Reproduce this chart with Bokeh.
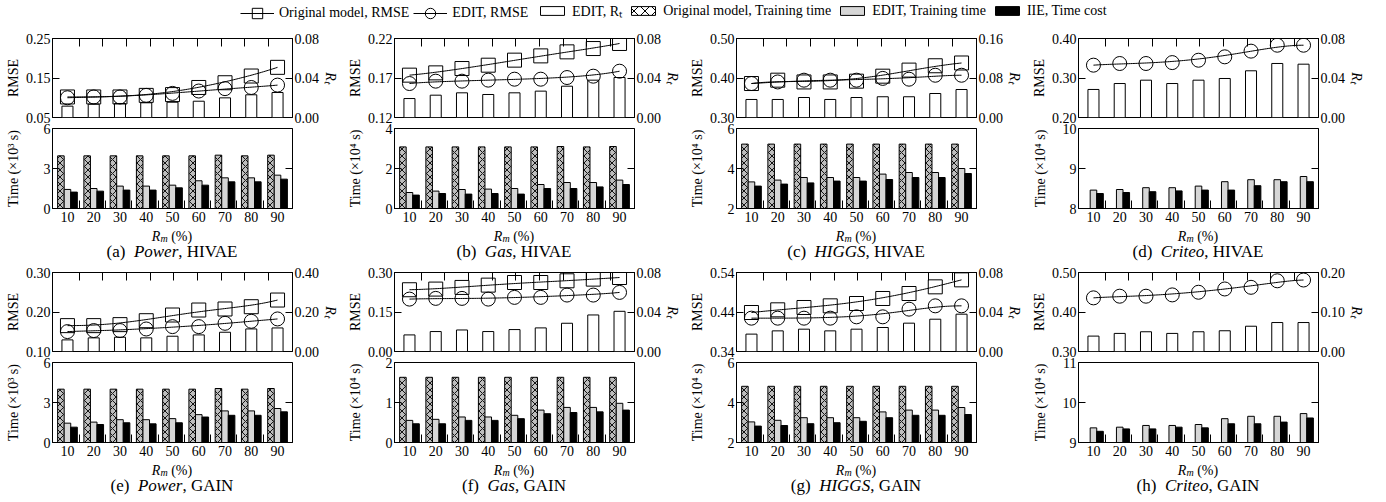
import numpy as np
from math import comb
from bokeh.plotting import figure
from bokeh.models import (Range1d, LinearAxis, FixedTicker, PrintfTickFormatter,
                          Legend, LegendItem, Div)
from bokeh.layouts import column, row
from bokeh.embed import file_html
from bokeh.resources import INLINE

FONT = "Liberation Serif"

# ---------------- data ----------------
rm_labels = ["10", "20", "30", "40", "50", "60", "70", "80", "90"]

# (a) Power, HIVAE
a_rmse_orig = [0.102, 0.102, 0.102, 0.106, 0.108, 0.126, 0.138, 0.155, 0.177]
a_rmse_edit = [0.100, 0.102, 0.102, 0.106, 0.111, 0.117, 0.123, 0.126, 0.132]
a_rt = [0.0115, 0.0135, 0.0142, 0.0149, 0.0155, 0.0165, 0.0199, 0.0230, 0.0253]
a_time_orig = [3.95, 3.95, 3.95, 3.95, 3.95, 3.95, 4.0, 3.95, 4.0]
a_time_edit = [1.43, 1.50, 1.68, 1.68, 1.75, 2.08, 2.30, 2.30, 2.50]
a_time_iie = [1.23, 1.30, 1.38, 1.38, 1.55, 1.75, 2.00, 2.00, 2.20]

# (b) Gas, HIVAE
b_rmse_orig = [0.1736, 0.1765, 0.1820, 0.1862, 0.1926, 0.1980, 0.2031, 0.2073, 0.2137]
b_rmse_edit = [0.1630, 0.1660, 0.1660, 0.1673, 0.1685, 0.1685, 0.1706, 0.1723, 0.1786]
b_rt = [0.0192, 0.0226, 0.0250, 0.0233, 0.0250, 0.0267, 0.0317, 0.0378, 0.0405]
b_time_orig = [3.08, 3.08, 3.08, 3.08, 3.08, 3.08, 3.10, 3.08, 3.10]
b_time_edit = [0.80, 0.87, 0.95, 0.97, 1.00, 1.20, 1.30, 1.30, 1.42]
b_time_iie = [0.67, 0.75, 0.72, 0.75, 0.72, 1.00, 1.00, 1.08, 1.20]

# (c) HIGGS, HIVAE
c_rmse_orig = [0.386, 0.3945, 0.390, 0.390, 0.392, 0.4046, 0.420, 0.431, 0.438]
c_rmse_edit = [0.386, 0.390, 0.3945, 0.3945, 0.3945, 0.399, 0.397, 0.407, 0.407]
c_rt = [0.0365, 0.0365, 0.0405, 0.0365, 0.0405, 0.0420, 0.0420, 0.0486, 0.0567]
c_time_orig = [5.22, 5.22, 5.22, 5.22, 5.22, 5.22, 5.22, 5.22, 5.22]
c_time_edit = [3.33, 3.42, 3.55, 3.55, 3.55, 3.72, 3.80, 3.80, 4.00]
c_time_iie = [3.12, 3.22, 3.28, 3.37, 3.37, 3.45, 3.55, 3.55, 3.75]

# (d) Criteo, HIVAE
d_rmse_orig = None
d_rmse_edit = [0.3325, 0.3367, 0.3367, 0.339, 0.345, 0.3536, 0.368, 0.383, 0.383]
d_rt = [0.0284, 0.0344, 0.0378, 0.0344, 0.0378, 0.0395, 0.0473, 0.0547, 0.0540]
d_time_orig = None
d_time_edit = [8.46, 8.475, 8.52, 8.52, 8.56, 8.67, 8.72, 8.72, 8.80]
d_time_iie = [8.375, 8.40, 8.42, 8.44, 8.46, 8.46, 8.57, 8.67, 8.67]

# (e) Power, GAIN
e_rmse_orig = [0.1655, 0.1655, 0.168, 0.178, 0.1924, 0.205, 0.2076, 0.2134, 0.2303]
e_rmse_edit = [0.1504, 0.153, 0.153, 0.157, 0.163, 0.163, 0.1714, 0.1765, 0.1824]
e_rt = [0.0588, 0.069, 0.0723, 0.069, 0.0773, 0.084, 0.0975, 0.1143, 0.1193]
e_time_orig = [4.0, 4.0, 4.0, 4.0, 4.0, 4.0, 4.05, 4.0, 4.05]
e_time_edit = [1.45, 1.53, 1.71, 1.71, 1.79, 2.09, 2.37, 2.37, 2.55]
e_time_iie = [1.15, 1.35, 1.48, 1.40, 1.48, 1.91, 2.04, 2.04, 2.30]

# (f) Gas, GAIN
f_rmse_orig = [0.2345, 0.237, 0.2433, 0.252, 0.262, 0.262, 0.2685, 0.2748, 0.281]
f_rmse_edit = [0.199, 0.2017, 0.2017, 0.199, 0.2055, 0.2055, 0.2143, 0.2143, 0.2244]
f_rt = [0.0168, 0.0202, 0.0218, 0.0202, 0.0222, 0.0239, 0.0286, 0.0370, 0.0407]
f_time_orig = [1.63, 1.63, 1.63, 1.63, 1.63, 1.63, 1.63, 1.63, 1.63]
f_time_edit = [0.553, 0.579, 0.638, 0.638, 0.68, 0.81, 0.877, 0.877, 0.98]
f_time_iie = [0.468, 0.468, 0.553, 0.553, 0.596, 0.72, 0.75, 0.766, 0.81]

# (g) HIGGS, GAIN
g_rmse_orig = [0.4387, 0.4455, 0.4514, 0.4556, 0.4615, 0.4742, 0.4868, 0.5037, 0.5214]
g_rmse_edit = [0.4244, 0.4244, 0.4244, 0.4244, 0.4278, 0.4278, 0.4472, 0.4556, 0.4556]
g_rt = [0.0176, 0.0209, 0.0226, 0.0209, 0.0226, 0.0243, 0.0287, 0.0327, 0.0378]
g_time_orig = [4.81, 4.81, 4.81, 4.81, 4.81, 4.81, 4.81, 4.81, 4.81]
g_time_edit = [3.03, 3.11, 3.24, 3.24, 3.24, 3.53, 3.62, 3.62, 3.75]
g_time_iie = [2.82, 2.85, 2.94, 2.99, 3.06, 3.24, 3.36, 3.36, 3.40]

# (h) Criteo, GAIN
h_rmse_orig = None
h_rmse_edit = [0.4358, 0.44, 0.44, 0.4433, 0.45, 0.4583, 0.4625, 0.479, 0.481]
h_rt = [0.039, 0.0458, 0.05, 0.0458, 0.05, 0.0525, 0.064, 0.0733, 0.0733]
h_time_orig = None
h_time_edit = [9.366, 9.383, 9.426, 9.426, 9.45, 9.596, 9.655, 9.655, 9.723]
h_time_iie = [9.28, 9.34, 9.34, 9.383, 9.366, 9.468, 9.468, 9.51, 9.613]

# axis ticks per panel
rmse_ticks = {"a": [0.05, 0.15, 0.25], "b": [0.12, 0.17, 0.22], "c": [0.30, 0.40, 0.50],
              "d": [0.20, 0.30, 0.40], "e": [0.10, 0.20, 0.30], "f": [0.00, 0.15, 0.30],
              "g": [0.34, 0.44, 0.54], "h": [0.30, 0.40, 0.50]}
rt_ticks = {"a": [0.0, 0.04, 0.08], "b": [0.0, 0.04, 0.08], "c": [0.0, 0.08, 0.16],
            "d": [0.0, 0.04, 0.08], "e": [0.0, 0.20, 0.40], "f": [0.0, 0.04, 0.08],
            "g": [0.0, 0.04, 0.08], "h": [0.0, 0.10, 0.20]}
time_ticks = {"a": [0, 3, 6], "b": [0, 2, 4], "c": [2, 4, 6], "d": [8, 9, 10],
              "e": [0, 3, 6], "f": [0, 1, 2], "g": [2, 4, 6], "h": [9, 10, 11]}
time_exp = {"a": "³", "b": "⁴", "c": "⁴", "d": "⁴", "e": "³", "f": "⁴", "g": "⁴", "h": "⁴"}
datasets = {"a": "Power", "b": "Gas", "c": "HIGGS", "d": "Criteo",
            "e": "Power", "f": "Gas", "g": "HIGGS", "h": "Criteo"}
models = {"a": "HIVAE", "b": "HIVAE", "c": "HIVAE", "d": "HIVAE",
          "e": "GAIN", "f": "GAIN", "g": "GAIN", "h": "GAIN"}

series = {
    "a": (a_rmse_orig, a_rmse_edit, a_rt, a_time_orig, a_time_edit, a_time_iie),
    "b": (b_rmse_orig, b_rmse_edit, b_rt, b_time_orig, b_time_edit, b_time_iie),
    "c": (c_rmse_orig, c_rmse_edit, c_rt, c_time_orig, c_time_edit, c_time_iie),
    "d": (d_rmse_orig, d_rmse_edit, d_rt, d_time_orig, d_time_edit, d_time_iie),
    "e": (e_rmse_orig, e_rmse_edit, e_rt, e_time_orig, e_time_edit, e_time_iie),
    "f": (f_rmse_orig, f_rmse_edit, f_rt, f_time_orig, f_time_edit, f_time_iie),
    "g": (g_rmse_orig, g_rmse_edit, g_rt, g_time_orig, g_time_edit, g_time_iie),
    "h": (h_rmse_orig, h_rmse_edit, h_rt, h_time_orig, h_time_edit, h_time_iie),
}

# ---------------- helpers ----------------
LEFT, RIGHT, FRAME_W = 52, 50, 240
FIG_W = LEFT + FRAME_W + RIGHT


def bezier(xs, ys, n=120):
    xs = np.asarray(xs, float)
    ys = np.asarray(ys, float)
    m = len(xs) - 1
    t = np.linspace(0, 1, n)
    B = np.array([comb(m, k) * t ** k * (1 - t) ** (m - k) for k in range(m + 1)])
    return B.T @ xs, B.T @ ys


def style_axis(ax, ticks=None):
    ax.axis_line_color = "black"
    ax.major_tick_line_color = "black"
    ax.major_tick_in = 7
    ax.major_tick_out = 0
    ax.minor_tick_line_color = None
    ax.major_label_text_font = FONT
    ax.major_label_text_font_size = "14px"
    ax.major_label_text_color = "black"
    ax.major_label_standoff = 2
    ax.axis_label_text_font = FONT
    ax.axis_label_text_font_size = "14px"
    ax.axis_label_text_font_style = "normal"
    ax.axis_label_text_color = "black"
    if ticks is not None:          # tick marks only, no labels
        ax.major_label_overrides = {float(t): "" for t in ticks}
        ax.major_label_standoff = 0


def label_width(strings):
    return max(sum(3.5 if ch == "." else 7.0 for ch in s) for s in strings)


def make_panel(k):
    rmse_orig, rmse_edit, rt, t_orig, t_edit, t_iie = series[k]
    idx = np.arange(1, len(rm_labels) + 1)
    xr = Range1d(0.43, len(rm_labels) + 0.57)

    # ---- top: RMSE + R_t ----
    top = figure(width=FIG_W, height=101, x_range=xr,
                 y_range=Range1d(rmse_ticks[k][0], rmse_ticks[k][-1]),
                 output_backend="svg", toolbar_location=None,
                 x_axis_location=None, y_axis_location=None,
                 min_border_left=LEFT, min_border_right=RIGHT,
                 min_border_top=12, min_border_bottom=10,
                 outline_line_color="black", outline_line_alpha=1.0)
    top.grid.visible = False
    top.extra_y_ranges = {"rt": Range1d(rt_ticks[k][0], rt_ticks[k][-1])}

    lax = LinearAxis(ticker=FixedTicker(ticks=rmse_ticks[k]),
                     formatter=PrintfTickFormatter(format="%.2f"), axis_label="RMSE")
    style_axis(lax)
    lax.axis_label_standoff = 2
    top.add_layout(lax, "left")

    rax = LinearAxis(y_range_name="rt", ticker=FixedTicker(ticks=rt_ticks[k]),
                     formatter=PrintfTickFormatter(format="%.2f"), axis_label="Rₜ")
    style_axis(rax)
    rax.axis_label_text_font_style = "italic"
    rax.axis_label_standoff = 1
    top.add_layout(rax, "right")

    top_tick_pos = [float(v) for v in np.linspace(1.45, 8.65, 9)]
    aax = LinearAxis(ticker=FixedTicker(ticks=top_tick_pos))
    style_axis(aax, ticks=top_tick_pos)
    aax.major_tick_in = 8
    top.add_layout(aax, "above")

    top.vbar(x=idx, width=0.42, top=rt, bottom=rt_ticks[k][0], y_range_name="rt",
             fill_color="white", line_color="black", line_width=1)
    if rmse_orig is not None:
        bx, by = bezier(idx, rmse_orig)
        top.line(bx, by, line_color="black", line_width=1)
    bx, by = bezier(idx, rmse_edit)
    top.line(bx, by, line_color="black", line_width=1)
    if rmse_orig is not None:
        top.scatter(idx, rmse_orig, marker="square", size=14, fill_color=None,
                    line_color="black", line_width=1)
    top.scatter(idx, rmse_edit, marker="circle", size=14, fill_color=None,
                line_color="black", line_width=1)

    # ---- bottom: time (its transparent top border overlaps the plot above) ----
    tt = time_ticks[k]
    bot = figure(width=FIG_W, height=113, x_range=xr, y_range=Range1d(tt[0], tt[-1]),
                 output_backend="svg", toolbar_location=None,
                 x_axis_location=None, y_axis_location=None,
                 min_border_left=LEFT, min_border_right=RIGHT,
                 min_border_top=11, min_border_bottom=22,
                 outline_line_color="black", outline_line_alpha=1.0,
                 border_fill_color=None, margin=(-10, 0, 0, 0))
    bot.grid.visible = False

    tax = LinearAxis(ticker=FixedTicker(ticks=tt), formatter=PrintfTickFormatter(format="%d"),
                     axis_label="Time (×10" + time_exp[k] + " s)")
    style_axis(tax)
    tax.axis_label_standoff = int(round(2 + 24.5 - label_width([str(v) for v in tt])))
    bot.add_layout(tax, "left")

    trax = LinearAxis(ticker=FixedTicker(ticks=[tt[1]]))
    style_axis(trax, ticks=[tt[1]])
    bot.add_layout(trax, "right")

    bax = LinearAxis(ticker=FixedTicker(ticks=list(idx),
                                        minor_ticks=list(idx[:-1] + 0.45)))
    style_axis(bax)
    bax.major_tick_in = 0
    bax.minor_tick_line_color = "black"
    bax.minor_tick_in = 8
    bax.minor_tick_out = 0
    bax.major_label_standoff = 3
    bax.major_label_overrides = {int(i): lab for i, lab in zip(idx, rm_labels)}
    bot.add_layout(bax, "below")

    if t_orig is not None:
        bot.vbar(x=idx - 0.25, width=0.25, top=t_orig, bottom=tt[0],
                 fill_color="#bdbdbd", line_color="black", line_width=1,
                 hatch_pattern="diagonal_cross", hatch_color="black",
                 hatch_scale=7, hatch_weight=0.9)
    bot.vbar(x=idx, width=0.25, top=t_edit, bottom=tt[0],
             fill_color="#d6d6d6", line_color="black", line_width=1)
    bot.vbar(x=idx + 0.25, width=0.25, top=t_iie, bottom=tt[0],
             fill_color="black", line_color="black", line_width=1)

    cap = Div(text=(
        "<div style=\"display:block;width:" + str(FRAME_W) + "px;text-align:center;"
        "font-family:'Liberation Serif';color:black;\">"
        "<div style='font-size:14px;line-height:13px;height:13px;'><i>R</i>"
        "<span style='font-size:10px;font-style:italic;position:relative;top:1px;'>m</span>"
        " (%)</div>"
        "<div style='font-size:17px;line-height:17px;'>(" + k + ")&nbsp;&nbsp;<i>"
        + datasets[k] + "</i>, " + models[k] + "</div></div>"),
        width=FRAME_W, height=30, margin=(0, RIGHT, 0, LEFT),
        styles={"width": str(FRAME_W) + "px", "text-align": "center"})
    return column(top, bot, cap, spacing=0)


# ---------------- legend strip ----------------
leg = figure(width=4 * FIG_W, height=26, x_range=Range1d(0, 1), y_range=Range1d(0, 1),
             output_backend="svg", toolbar_location=None,
             x_axis_location=None, y_axis_location=None,
             min_border_left=0, min_border_right=0, min_border_top=0, min_border_bottom=0,
             outline_line_color=None)
leg.grid.visible = False
# swatch renderers (their single point lies outside the visible range)
r_l1 = leg.line([5, 6], [5, 5], line_color="black", line_width=1)
r_m1 = leg.scatter([5], [5], marker="square", size=12, fill_color=None, line_color="black")
r_l2 = leg.line([5, 6], [5, 5], line_color="black", line_width=1)
r_m2 = leg.scatter([5], [5], marker="circle", size=12, fill_color=None, line_color="black")
r_b1 = leg.vbar(x=[5], top=[6], width=0.5, fill_color="white", line_color="black")
r_b2 = leg.vbar(x=[5], top=[6], width=0.5, fill_color="white", line_color="black",
                hatch_pattern="diagonal_cross", hatch_color="black", hatch_scale=11,
                hatch_weight=1)
r_b3 = leg.vbar(x=[5], top=[6], width=0.5, fill_color="#d6d6d6", line_color="black")
r_b4 = leg.vbar(x=[5], top=[6], width=0.5, fill_color="black", line_color="black")

common = dict(orientation="horizontal", padding=0, margin=0, border_line_color=None,
              background_fill_alpha=0, label_text_font=FONT, label_text_font_size="14px",
              label_text_color="black", label_standoff=5)
leg1 = Legend(items=[LegendItem(label="Original model, RMSE", renderers=[r_l1, r_m1]),
                     LegendItem(label="EDIT, RMSE", renderers=[r_l2, r_m2])],
              location=(240, 0), glyph_width=34, glyph_height=26, spacing=4, **common)
leg2 = Legend(items=[LegendItem(label="EDIT, Rₜ", renderers=[r_b1]),
                     LegendItem(label="Original model, Training time", renderers=[r_b2]),
                     LegendItem(label="EDIT, Training time", renderers=[r_b3]),
                     LegendItem(label="IIE, Time cost", renderers=[r_b4])],
              location=(537, 6), glyph_width=30, glyph_height=11, label_height=11,
              spacing=6, **common)
leg.add_layout(leg1, "center")
leg.add_layout(leg2, "center")

row1 = row([make_panel(k) for k in "abcd"], spacing=0)
row2 = row([make_panel(k) for k in "efgh"], spacing=0)
page = column(leg, row1, row2, spacing=0)

open("out.html", "w").write(file_html(page, INLINE))
